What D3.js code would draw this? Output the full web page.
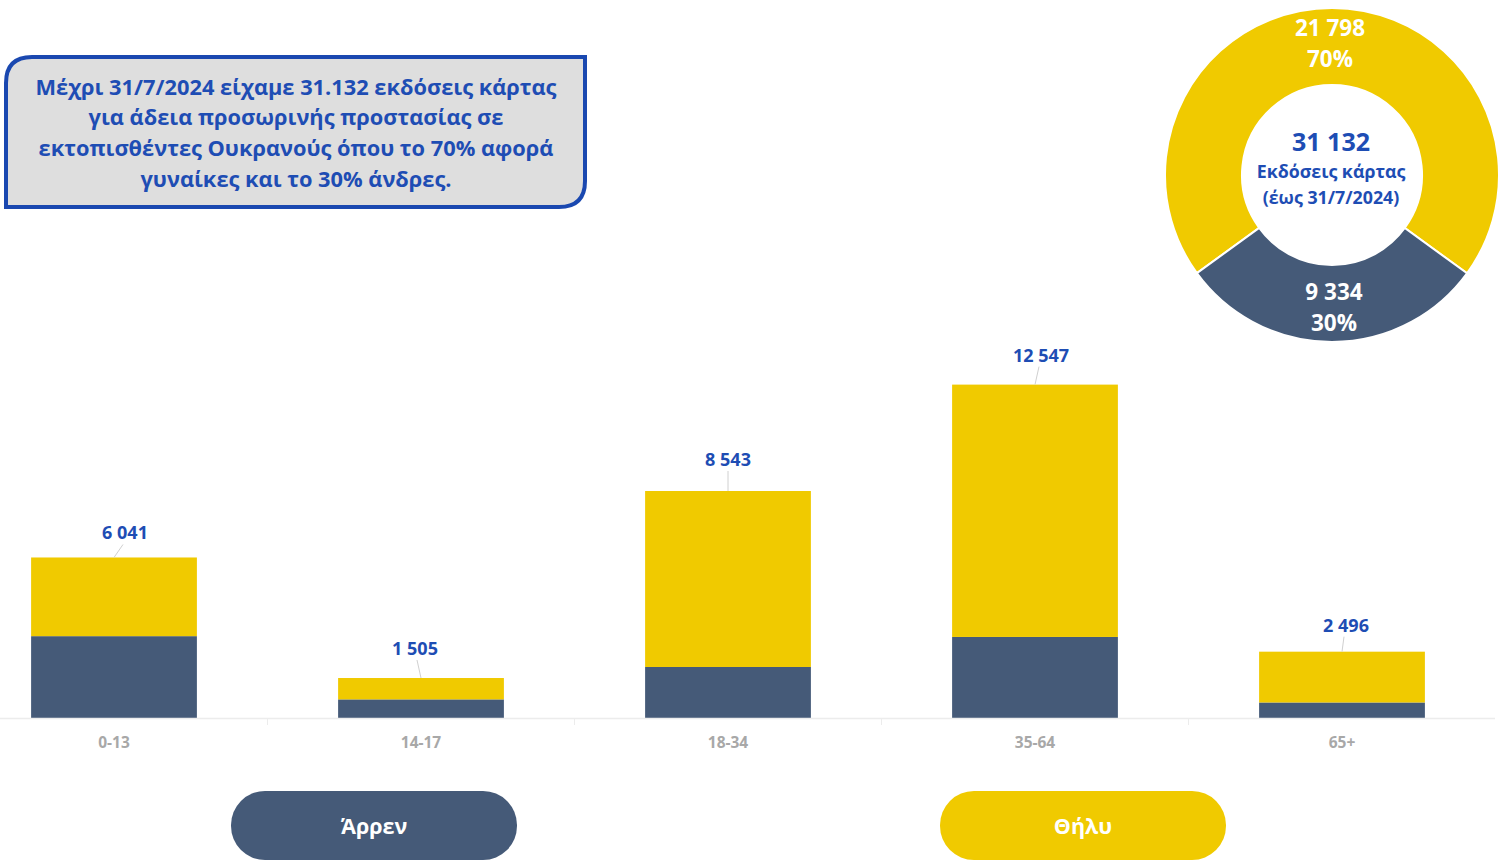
<!DOCTYPE html>
<html><head><meta charset="utf-8">
<script src="https://cdn.jsdelivr.net/npm/d3@7"></script>
<style>html,body{margin:0;padding:0;background:#fff;}svg{display:block;}</style>
</head><body>
<svg id="chart" width="1505" height="860"></svg>
<script>
const categories = ["0-13", "14-17", "18-34", "35-64", "65+"];
const male = [3080, 700, 1920, 3050, 584];
const female = [2961, 805, 6623, 9497, 1912];
const totals = [6041, 1505, 8543, 12547, 2496];
const totalLabels = ["6 041", "1 505", "8 543", "12 547", "2 496"];
const donutLabels = ["Θήλυ", "Άρρεν"];
const donutValues = [21798, 9334];
const donutValueText = ["21 798", "9 334"];
const donutPctText = ["70%", "30%"];
const centerLines = ["31 132", "Εκδόσεις κάρτας", "(έως 31/7/2024)"];
const titleLines = ["Μέχρι 31/7/2024 είχαμε 31.132 εκδόσεις κάρτας", "για άδεια προσωρινής προστασίας σε", "εκτοπισθέντες Ουκρανούς όπου το 70% αφορά", "γυναίκες και το 30% άνδρες."];
const legendLabels = ["Άρρεν", "Θήλυ"];

// layout config: data-label offsets (px) from bar top centre
const labelDx = [11, -6, 0, 6, 4];
const labelDy = [-24, -29, -31, -29, -26];

const YELLOW = "#F0CA00", NAVY = "#455A78", BLUE = "#1E4DB4";
const FONT = "'Open Sans', 'Noto Sans', sans-serif";
const svg = d3.select("#chart");

// bars
const x = d3.scaleBand().domain(categories).range([-39.5, 1495.5]).paddingInner(0.46).paddingOuter(0.23);
const y = d3.scaleLinear().domain([0, 14000]).range([718, 346]);

const stack = d3.stack().keys(["m", "f"])(categories.map((c, i) => ({c, m: male[i], f: female[i]})));
const colors = {m: NAVY, f: YELLOW};
svg.append("g").selectAll("g").data(stack).join("g").attr("fill", d => colors[d.key])
  .selectAll("rect").data(d => d).join("rect")
  .attr("x", d => x(d.data.c)).attr("width", x.bandwidth())
  .attr("y", d => y(d[1])).attr("height", d => y(d[0]) - y(d[1]));

// axis
const axisG = svg.append("g");
axisG.append("line").attr("x1", 0).attr("x2", 1495).attr("y1", 718.5).attr("y2", 718.5).attr("stroke", "#ececec").attr("stroke-width", 1.5);
categories.slice(1).forEach(c => {
  const bx = x(c) - x.step() * x.paddingInner() / 2;
  axisG.append("line").attr("x1", bx).attr("x2", bx).attr("y1", 718).attr("y2", 725).attr("stroke", "#ececec");
});
axisG.selectAll("text").data(categories).join("text")
  .attr("x", d => x(d) + x.bandwidth() / 2).attr("y", 748)
  .attr("text-anchor", "middle").attr("font-family", FONT).attr("font-weight", 700)
  .attr("font-size", 15.5).attr("fill", "#a8a8a8").text(d => d);

// total labels with leader lines
categories.forEach((c, i) => {
  const cx = x(c) + x.bandwidth() / 2;
  const top = y(totals[i]);
  const lx = cx + labelDx[i], ly = top + labelDy[i];
  svg.append("line").attr("x1", cx).attr("y1", top).attr("x2", lx + (labelDx[i] > 0 ? -2 : labelDx[i] < 0 ? 2 : 0)).attr("y2", ly + 11)
    .attr("stroke", "#d0d0d0").attr("stroke-width", 1);
  svg.append("text").attr("x", lx).attr("y", ly + 6)
    .attr("text-anchor", "middle").attr("font-family", FONT).attr("font-weight", 700)
    .attr("font-size", 18).attr("fill", BLUE).text(totalLabels[i]);
});

// title box
const bx0 = 6, by0 = 57, bx1 = 585, by1 = 207, r = 26;
const boxPath = `M${bx0},${by0 + r} Q${bx0},${by0} ${bx0 + r},${by0} L${bx1},${by0} L${bx1},${by1 - r} Q${bx1},${by1} ${bx1 - r},${by1} L${bx0},${by1} Z`;
svg.append("path").attr("d", boxPath).attr("fill", "#dedede").attr("stroke", "#1A48B0").attr("stroke-width", 4);
svg.append("g").selectAll("text").data(titleLines).join("text")
  .attr("x", 296).attr("y", (d, i) => 94.5 + i * 30.7)
  .attr("text-anchor", "middle").attr("font-family", FONT).attr("font-weight", 700)
  .attr("font-size", 21.8).attr("fill", BLUE).text(d => d);

// donut
const dcx = 1332, dcy = 175, ro = 167, ri = 90;
const pie = d3.pie().sort(null).startAngle(-126 * Math.PI / 180).endAngle(234 * Math.PI / 180);
const arcs = pie(donutValues);
const arc = d3.arc().innerRadius(ri).outerRadius(ro);
const dg = svg.append("g").attr("transform", `translate(${dcx},${dcy})`);
dg.selectAll("path").data(arcs).join("path").attr("d", arc)
  .attr("fill", (d, i) => i === 0 ? YELLOW : NAVY).attr("stroke", "#fff").attr("stroke-width", 2);
const labelPos = [[-2, -139, -108], [2, 125, 156]];
arcs.forEach((a, i) => {
  dg.append("text").attr("x", labelPos[i][0]).attr("y", labelPos[i][1]).attr("text-anchor", "middle")
    .attr("font-family", FONT).attr("font-weight", 700).attr("font-size", 22.5).attr("fill", "#fff").text(donutValueText[i]);
  dg.append("text").attr("x", labelPos[i][0]).attr("y", labelPos[i][2]).attr("text-anchor", "middle")
    .attr("font-family", FONT).attr("font-weight", 700).attr("font-size", 22.5).attr("fill", "#fff").text(donutPctText[i]);
});
dg.append("text").attr("x", -1).attr("y", -24).attr("text-anchor", "middle").attr("font-family", FONT)
  .attr("font-weight", 700).attr("font-size", 25).attr("fill", BLUE).text(centerLines[0]);
dg.append("text").attr("x", -1).attr("y", 3).attr("text-anchor", "middle").attr("font-family", FONT)
  .attr("font-weight", 700).attr("font-size", 17.8).attr("fill", BLUE).text(centerLines[1]);
dg.append("text").attr("x", -1).attr("y", 29).attr("text-anchor", "middle").attr("font-family", FONT)
  .attr("font-weight", 700).attr("font-size", 17.8).attr("fill", BLUE).text(centerLines[2]);

// legend pills
const pills = [{x: 231, c: NAVY}, {x: 940, c: YELLOW}];
pills.forEach((p, i) => {
  svg.append("rect").attr("x", p.x).attr("y", 791).attr("width", 286).attr("height", 69)
    .attr("rx", 34).attr("fill", p.c);
  svg.append("text").attr("x", p.x + 143).attr("y", 834).attr("text-anchor", "middle")
    .attr("font-family", FONT).attr("font-weight", 700).attr("font-size", 21.5).attr("fill", "#fff").text(legendLabels[i]);
});
</script>
</body></html>
